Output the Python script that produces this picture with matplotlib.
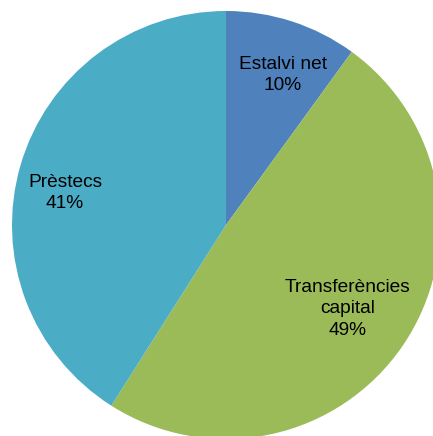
import numpy as np
import matplotlib.pyplot as plt

# data
labels = ["Estalvi net", "Transferències\ncapital", "Prèstecs"]
values = [10, 49, 41]
colors = ["#4F81BD", "#9BBB59", "#4BACC6"]
label_dist = [0.75, 0.69, 0.767]
label_shift = [-2.8, -0.3, 5.0]  # degrees off the wedge middle

fig = plt.figure(figsize=(4.33, 4.36), dpi=100)
# pie centre ~(226,225) px, radius ~214 px
ax = fig.add_axes([12 / 433, -3 / 436, 428 / 433, 428 / 436])

wedges, _ = ax.pie(values, colors=colors, startangle=90, counterclock=False,
                   radius=1, wedgeprops=dict(linewidth=0))

for w, lab, v, d, s in zip(wedges, labels, values, label_dist, label_shift):
    ang = np.deg2rad((w.theta1 + w.theta2) / 2 + s)
    ax.text(d * np.cos(ang), d * np.sin(ang), f"{lab}\n{v}%",
            ha="center", va="center", fontsize=13.8,
            family="Liberation Sans", color="black", linespacing=1.35)

ax.set_xlim(-1, 1)
ax.set_ylim(-1, 1)
ax.set_aspect("equal")
ax.axis("off")

fig.savefig("out.png", dpi=100)
